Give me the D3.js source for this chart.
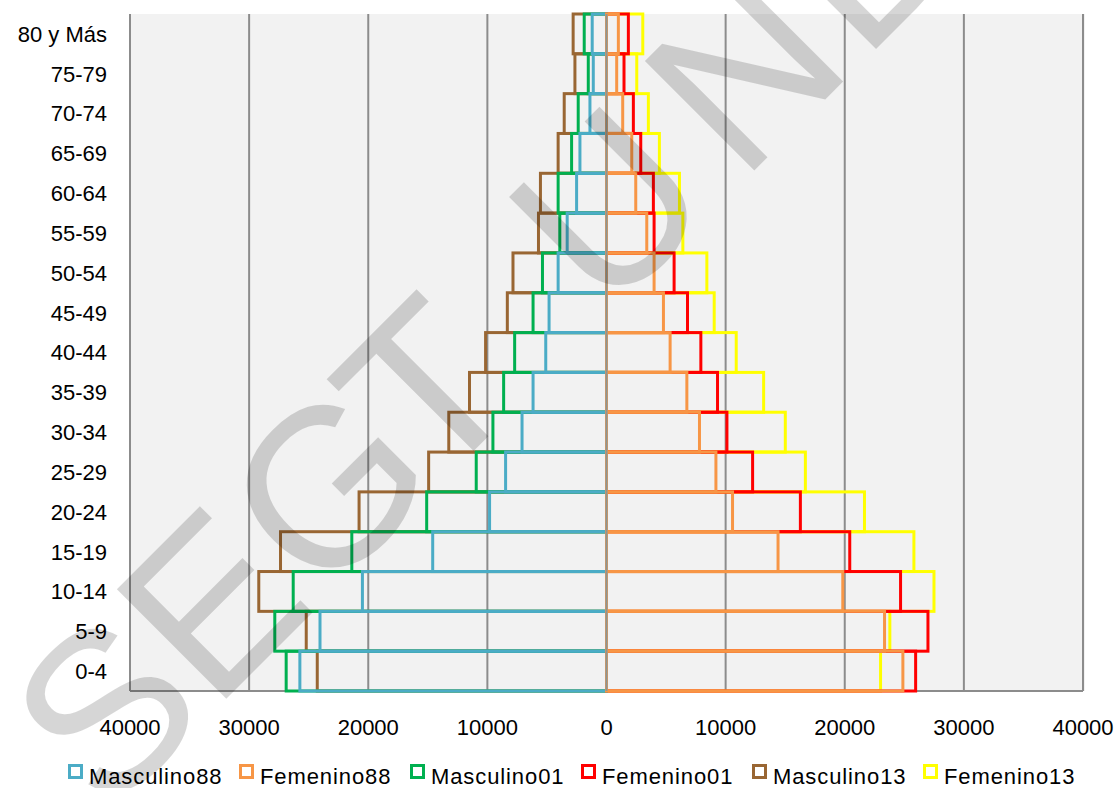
<!DOCTYPE html>
<html lang="es">
<head>
    <meta charset="UTF-8">
    <title>Pirámide de población</title>
    <style>
        body { margin: 0; background: #fff; font-family: "Liberation Sans", Arial, sans-serif; }
        .label { font-size: 22px; fill: #000; }
        .legend text { font-size: 22px; letter-spacing: 0.9px; }
        .bar { fill: none; stroke-width: 3px; }
        .grid { stroke: #8c8c8c; stroke-width: 2px; }
    </style>
</head>
<body>
    <svg width="1119" height="788"></svg>
    <script src="https://d3js.org/d3.v7.min.js"></script>
    <script>
        // age groups, bottom to top
        const ages = ["0-4", "5-9", "10-14", "15-19", "20-24", "25-29", "30-34", "35-39", "40-44",
                      "45-49", "50-54", "55-59", "60-64", "65-69", "70-74", "75-79", "80 y Más"];

        const masculino88 = [25740, 24050, 20490, 14590, 9815, 8470, 7090, 6165, 5100, 4820, 4060, 3300, 2510, 2230, 1390, 1110, 1200];
        const femenino88  = [24880, 23340, 19835, 14400, 10580, 9185, 7805, 6745, 5340, 4780, 3995, 3380, 2455, 2120, 1360, 855, 995];
        const masculino01 = [26890, 27845, 26300, 21380, 15095, 10935, 9535, 8635, 7710, 6165, 5375, 3920, 4060, 2930, 2375, 1530, 1870];
        const femenino01  = [25950, 26985, 24685, 20420, 16275, 12265, 10110, 9320, 7920, 6800, 5675, 3995, 3935, 2875, 2255, 1470, 1835];
        const masculino13 = [24280, 25205, 29190, 27365, 20770, 14930, 13240, 11500, 10150, 8325, 7850, 5710, 5545, 4060, 3550, 2650, 2800];
        const femenino13  = [23005, 23785, 27490, 25805, 21655, 16695, 15010, 13190, 10890, 9040, 8425, 6410, 6125, 4440, 3515, 2540, 3045];

        const xTicks = [-40000, -30000, -20000, -10000, 0, 10000, 20000, 30000, 40000];

        // legend order
        const legendNames = ["Masculino88", "Femenino88", "Masculino01", "Femenino01", "Masculino13", "Femenino13"];
        const legendColors = ["#4bacc6", "#f79646", "#00b050", "#ff0000", "#996633", "#ffff00"];

        // drawing order (first = bottom)
        const series = [
            { name: "Masculino13", values: masculino13, side: -1, color: "#996633" },
            { name: "Femenino13",  values: femenino13,  side: 1,  color: "#ffff00" },
            { name: "Masculino01", values: masculino01, side: -1, color: "#00b050" },
            { name: "Femenino01",  values: femenino01,  side: 1,  color: "#ff0000" },
            { name: "Masculino88", values: masculino88, side: -1, color: "#4bacc6" },
            { name: "Femenino88",  values: femenino88,  side: 1,  color: "#f79646" }
        ];

        const plotLeft = 130, plotRight = 1083, plotTop = 14, plotBottom = 691;

        const svg = d3.select("svg");

        const x = d3.scaleLinear().domain([-40000, 40000]).range([plotLeft, plotRight]);
        const y = d3.scaleBand().domain(ages).range([plotBottom, plotTop]).padding(0);

        // plot area
        svg.append("rect")
            .attr("x", plotLeft).attr("y", plotTop)
            .attr("width", plotRight - plotLeft + 2).attr("height", plotBottom - plotTop)
            .attr("fill", "#f2f2f2");

        // vertical gridlines
        svg.selectAll(".grid")
            .data(xTicks.filter(d => d !== 0))
            .enter().append("line")
            .attr("class", "grid")
            .attr("x1", d => x(d)).attr("x2", d => x(d))
            .attr("y1", plotTop).attr("y2", plotBottom);

        svg.append("line")
            .attr("class", "grid")
            .attr("x1", plotLeft).attr("x2", plotRight)
            .attr("y1", plotBottom).attr("y2", plotBottom);

        // bars (outlines only)
        series.forEach(s => {
            svg.append("g").selectAll("rect")
                .data(s.values)
                .enter().append("rect")
                .attr("class", "bar")
                .attr("stroke", s.color)
                .attr("x", d => s.side < 0 ? x(-d) : x(0))
                .attr("width", d => s.side < 0 ? x(0) - x(-d) : x(d) - x(0))
                .attr("y", (d, i) => y(ages[i]))
                .attr("height", y.bandwidth());
        });

        // axis at zero on top of bars
        svg.append("line")
            .attr("x1", x(0)).attr("x2", x(0))
            .attr("y1", plotTop).attr("y2", plotBottom)
            .attr("stroke", "#8a9696").attr("stroke-width", 2);

        // category labels
        svg.append("g").selectAll("text")
            .data(ages)
            .enter().append("text")
            .attr("class", "label")
            .attr("x", 107)
            .attr("y", d => y(d) + y.bandwidth() / 2)
            .attr("dy", "0.36em")
            .attr("text-anchor", "end")
            .text(d => d);

        // value labels
        svg.append("g").selectAll("text")
            .data(xTicks)
            .enter().append("text")
            .attr("class", "label")
            .attr("x", d => x(d))
            .attr("y", 735)
            .attr("text-anchor", "middle")
            .text(d => Math.abs(d));

        // legend
        const legend = svg.append("g").attr("class", "legend")
            .selectAll("g")
            .data(legendNames)
            .enter().append("g")
            .attr("transform", (d, i) => `translate(${68 + i * 171},764)`);

        legend.append("rect")
            .attr("x", 1.5).attr("y", 1.5)
            .attr("width", 12).attr("height", 12)
            .attr("fill", "#fff")
            .attr("stroke", (d, i) => legendColors[i])
            .attr("stroke-width", 3);

        legend.append("text")
            .attr("x", 21).attr("y", 20)
            .text(d => d);

        // watermark
        const wmLetters = ["S", "E", "G", "T", "U", "N", "D"];
        const wmPos = [-315, -165, 0, 139, 397, 588, 760];
        svg.append("g")
            .attr("transform", "translate(390,549) rotate(-45)")
            .selectAll("text")
            .data(wmLetters)
            .enter().append("text")
            .attr("x", (d, i) => wmPos[i])
            .attr("y", -10)
            .attr("text-anchor", "middle")
            .style("font-size", "225px")
            .style("font-family", "'Liberation Sans', Arial, sans-serif")
            .attr("fill", "#000")
            .attr("fill-opacity", 0.16)
            .text(d => d);
    </script>
</body>
</html>
